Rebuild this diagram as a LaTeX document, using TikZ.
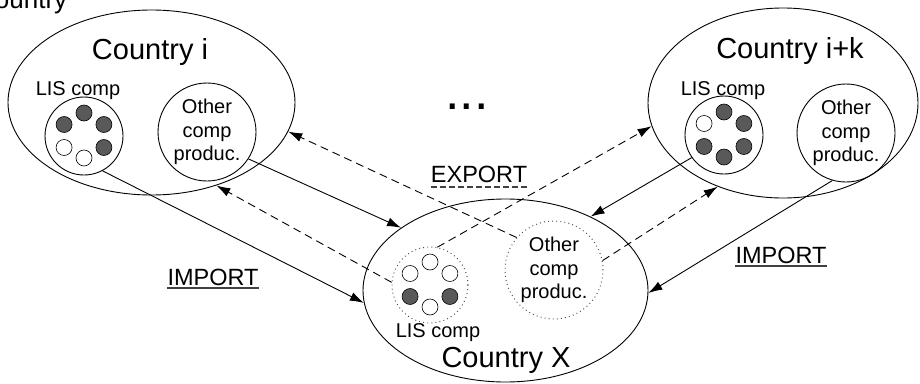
\documentclass[tikz,border=0pt]{standalone}
\usepackage{fontspec}
\setmainfont{Liberation Sans}
\usetikzlibrary{shapes.geometric,arrows.meta,calc}
\begin{document}
\begin{tikzpicture}[x=1pt,y=-1pt,
  country/.style={ellipse,draw,line width=0.9pt,inner sep=0pt},
  comp/.style={circle,draw,line width=0.9pt,inner sep=0pt,minimum size=98pt},
  lis/.style={circle,draw,line width=0.9pt,inner sep=0pt,minimum size=78pt},
  dcomp/.style={circle,draw=black!70,line width=1pt,dash pattern=on 0.9pt off 3.2pt,inner sep=0pt,minimum size=98pt},
  dlis/.style={circle,draw=black!70,line width=1pt,dash pattern=on 0.9pt off 3.2pt,inner sep=0pt,minimum size=76pt},
  dotf/.style={circle,draw,line width=0.6pt,fill=black!65,minimum size=16pt,inner sep=0pt},
  doto/.style={circle,draw,line width=0.6pt,fill=white,minimum size=16pt,inner sep=0pt},
  txt/.style={font=\fontsize{20}{23.5}\selectfont,align=center,inner sep=0pt},
  lisname/.style={font=\fontsize{20}{23}\selectfont,inner sep=0pt,anchor=base},
  big/.style={font=\fontsize{29}{34}\selectfont,inner sep=0pt,anchor=base},
  trade/.style={font=\fontsize{23.5}{27}\selectfont,inner sep=0pt,anchor=base},
  flow/.style={line width=0.9pt,-{Latex[length=14pt,width=9pt]}},
  dflow/.style={flow,dash pattern=on 8pt off 5pt},
  uline/.style={line width=1.3pt,black!75}
]
\useasboundingbox (0,0) rectangle (920,383);

% clipped caption at top left
\node[font=\fontsize{26}{30}\selectfont,inner sep=0pt,anchor=base west] (cut) at (-24,8) {Country};

% countries
\node[country,minimum width=287pt,minimum height=185pt] (ci) at (151.5,102.5) {};
\node[country,minimum width=270pt,minimum height=190pt] (ck) at (783,103) {};
\node[country,minimum width=285pt,minimum height=183pt] (cx) at (505.5,290.5) {};

\node[big] (tci) at (150,59) {Country i};
\node[big] (tck) at (790,58) {Country i+k};
\node[big] (tcx) at (506,367) {Country X};

\node[font=\fontsize{52}{56}\selectfont,inner sep=0pt,anchor=base] (more) at (467,109) {...};

% Country i components
\node[lis] (lisi) at (84,136) {};
\node[lisname] (tlisi) at (78,95) {LIS comp};
\node[comp,txt] (othi) at (207,132) {Other\\comp\\produc.};

% Country i+k components
\node[lis] (lisk) at (724,135) {};
\node[lisname] (tlisk) at (723,95) {LIS comp};
\node[comp,txt] (othk) at (846,133) {Other\\comp\\produc.};

% Country X components
\node[dlis] (lisx) at (430,285) {};
\node[lisname] (tlisx) at (438,337) {LIS comp};
\node[dcomp,txt] (othx) at (554,270) {Other\\comp\\produc.};

% dots of LIS i
\node[dotf] (i1) at ($(lisi)+(90:23pt)$) {};
\node[dotf] (i2) at ($(lisi)+(150:23pt)$) {};
\node[dotf] (i3) at ($(lisi)+(30:23pt)$) {};
\node[doto] (i4) at ($(lisi)+(210:23pt)$) {};
\node[dotf] (i5) at ($(lisi)+(330:23pt)$) {};
\node[doto] (i6) at ($(lisi)+(270:22pt)$) {};
% dots of LIS i+k
\node[dotf] (k1) at ($(lisk)+(90:23pt)$) {};
\node[doto] (k2) at ($(lisk)+(150:23pt)$) {};
\node[dotf] (k3) at ($(lisk)+(30:23pt)$) {};
\node[dotf] (k4) at ($(lisk)+(210:23pt)$) {};
\node[dotf] (k5) at ($(lisk)+(330:23pt)$) {};
\node[dotf] (k6) at ($(lisk)+(270:22pt)$) {};
% dots of LIS X
\node[doto] (x1) at ($(lisx)+(90:23pt)$) {};
\node[doto] (x2) at ($(lisx)+(150:23pt)$) {};
\node[doto] (x3) at ($(lisx)+(30:23pt)$) {};
\node[dotf] (x4) at ($(lisx)+(210:23pt)$) {};
\node[dotf] (x5) at ($(lisx)+(330:23pt)$) {};
\node[doto] (x6) at ($(lisx)+(270:22pt)$) {};

% trade labels
\node[trade] (impl) at (213,285) {IMPORT};
\node[trade] (impr) at (781,263) {IMPORT};
\node[trade] (exp) at (479,182) {EXPORT};
\draw[uline] ([yshift=-3pt]impl.base west) -- ([yshift=-3pt]impl.base east);
\draw[uline] ([yshift=-3pt]impr.base west) -- ([yshift=-3pt]impr.base east);
\draw[uline,dash pattern=on 6pt off 3pt] ([yshift=-5pt]exp.base west) -- ([yshift=-5pt]exp.base east);

% flows
\draw[flow] (lisi.-62) -- (cx.185);
\draw[flow] (othi.-33) -- (cx.149.8);
\draw[dflow] (lisx.176) -- (ci.-52.7);
\draw[dflow] (othx.139) -- (ci.-12.6);
\draw[dflow] (lisx.79.6) -- (ck.190.6);
\draw[dflow] (othx.11.8) -- (ck.232.6);
\draw[flow] (lisk.215.2) -- (cx.41.3);
\draw[flow] (othk.254) -- (cx.-1.2);
\end{tikzpicture}
\end{document}
